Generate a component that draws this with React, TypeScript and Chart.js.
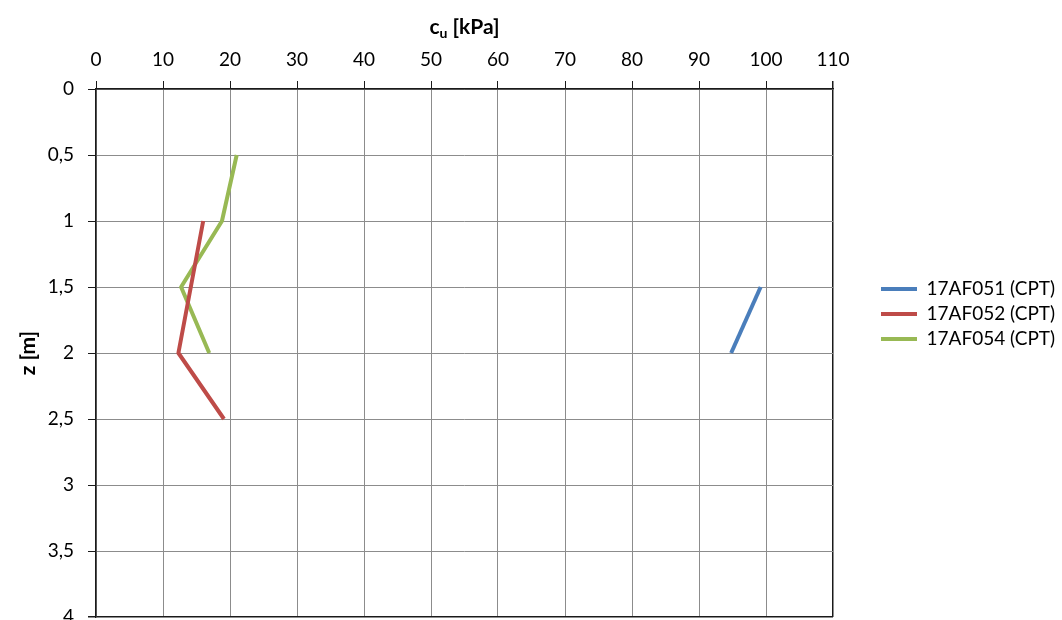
import React, { useEffect, useRef } from 'react';
import { Chart, registerables } from 'chart.js';

Chart.register(...registerables);

const seriesNames = ['17AF051 (CPT)', '17AF052 (CPT)', '17AF054 (CPT)'];
const seriesColors = ['#4A7EBB', '#BE4B48', '#98B954'];

const cu051 = [99.2, 94.8];
const z051 = [1.5, 2.0];
const cu052 = [16.0, 12.3, 19.1];
const z052 = [1.0, 2.0, 2.5];
const cu054 = [21.0, 18.8, 12.7, 16.9];
const z054 = [0.5, 1.0, 1.5, 2.0];

const xTickValues = [0, 10, 20, 30, 40, 50, 60, 70, 80, 90, 100, 110];
const yTickValues = [0, 0.5, 1, 1.5, 2, 2.5, 3, 3.5, 4];
const yTickLabels = ['0', '0,5', '1', '1,5', '2', '2,5', '3', '3,5', '4'];

const FONT = 'Lato, "Open Sans", sans-serif';

const toPoints = (xs: number[], ys: number[]) => xs.map((x, i) => ({ x, y: ys[i] }));

const axisTitlesPlugin = {
  id: 'axisTitles',
  afterDraw(chart: any) {
    const { ctx, chartArea } = chart;
    ctx.save();
    ctx.fillStyle = '#000';
    const big = `bold 21px ${FONT}`;
    const small = `bold 14px ${FONT}`;
    ctx.font = big;
    const wc = ctx.measureText('c').width;
    const wr = ctx.measureText(' [kPa]').width;
    ctx.font = small;
    const wu = ctx.measureText('u').width;
    const total = wc + wu + wr;
    let x = (chartArea.left + chartArea.right) / 2 - total / 2;
    const base = 34;
    ctx.textAlign = 'left';
    ctx.textBaseline = 'alphabetic';
    ctx.font = big;
    ctx.fillText('c', x, base);
    x += wc;
    ctx.font = small;
    ctx.fillText('u', x, base + 4);
    x += wu;
    ctx.font = big;
    ctx.fillText(' [kPa]', x, base);

    ctx.translate(28, (chartArea.top + chartArea.bottom) / 2);
    ctx.rotate(-Math.PI / 2);
    ctx.textAlign = 'center';
    ctx.textBaseline = 'middle';
    ctx.font = big;
    ctx.fillText('z [m]', 0, 0);
    ctx.restore();
  },
};

export default function App() {
  const ref = useRef<HTMLCanvasElement | null>(null);

  useEffect(() => {
    if (!ref.current) return;
    const seriesData = [toPoints(cu051, z051), toPoints(cu052, z052), toPoints(cu054, z054)];
    const chart = new Chart(ref.current, {
      type: 'scatter',
      data: {
        datasets: seriesNames.map((name, i) => ({
          label: name,
          data: seriesData[i],
          showLine: true,
          borderColor: seriesColors[i],
          backgroundColor: seriesColors[i],
          borderWidth: 4,
          pointRadius: 0,
          pointHoverRadius: 0,
          borderJoinStyle: 'round',
          fill: false,
        })),
      },
      options: {
        animation: false,
        responsive: false,
        layout: { padding: { left: 0, right: 0, top: 11, bottom: 9 } },
        plugins: {
          tooltip: { enabled: false },
          legend: {
            position: 'right',
            align: 'center',
            maxWidth: 187,
            labels: {
              boxWidth: 36,
              boxHeight: 4,
              padding: 6,
              color: '#000',
              font: { family: FONT, size: 19, lineHeight: 1.13 },
              generateLabels: (c: any) =>
                c.data.datasets.map((ds: any, i: number) => ({
                  text: ds.label,
                  fillStyle: ds.borderColor,
                  strokeStyle: ds.borderColor,
                  lineWidth: 0,
                  hidden: false,
                  datasetIndex: i,
                  fontColor: '#000',
                })),
            },
          },
        },
        scales: {
          x: {
            type: 'linear',
            position: 'top',
            min: 0,
            max: 110,
            afterBuildTicks: (s: any) => {
              s.ticks = xTickValues.map((v) => ({ value: v }));
            },
            afterFit: (s: any) => {
              s.height = 78;
              s.paddingLeft = 0;
              s.paddingRight = 0;
            },
            ticks: {
              color: '#000',
              padding: 10,
              maxRotation: 0,
              autoSkip: false,
              font: { family: FONT, size: 19 },
              callback: (v: any) => String(v),
            },
            grid: {
              color: (c: any) => (c.tick && c.tick.value === 110 ? '#1a1a1a' : '#8c8c8c'),
              lineWidth: (c: any) => (c.tick && c.tick.value === 110 ? 1.5 : 1),
              tickColor: '#1a1a1a',
              tickLength: 8,
            },
            border: { display: true, color: '#1a1a1a', width: 1.5 },
          },
          y: {
            type: 'linear',
            position: 'left',
            reverse: true,
            min: 0,
            max: 4,
            afterBuildTicks: (s: any) => {
              s.ticks = yTickValues.map((v) => ({ value: v }));
            },
            afterFit: (s: any) => {
              s.width = 96;
              s.paddingTop = 0;
              s.paddingBottom = 0;
            },
            ticks: {
              color: '#000',
              padding: 14,
              autoSkip: false,
              font: { family: FONT, size: 19 },
              callback: (v: any) => {
                const idx = yTickValues.indexOf(Number(v));
                return idx >= 0 ? yTickLabels[idx] : '';
              },
            },
            grid: {
              color: (c: any) => (c.tick && c.tick.value === 4 ? '#1a1a1a' : '#8c8c8c'),
              lineWidth: (c: any) => (c.tick && c.tick.value === 4 ? 1.5 : 1),
              tickColor: '#1a1a1a',
              tickLength: 8,
            },
            border: { display: true, color: '#1a1a1a', width: 1.5 },
          },
          y2: {
            type: 'linear',
            position: 'right',
            display: true,
            grid: { display: false, drawTicks: false },
            ticks: { display: false },
            border: { display: false },
            afterFit: (s: any) => {
              s.width = 42;
              s.paddingTop = 0;
              s.paddingBottom = 0;
            },
          },
        },
      },
      plugins: [axisTitlesPlugin],
    } as any);
    return () => chart.destroy();
  }, []);

  return (
    <div
      style={{
        position: 'fixed',
        left: 0,
        top: 0,
        width: 1062,
        height: 620,
        overflow: 'hidden',
        background: '#fff',
      }}
    >
      <canvas ref={ref} width={1062} height={626} style={{ display: 'block' }} />
    </div>
  );
}
